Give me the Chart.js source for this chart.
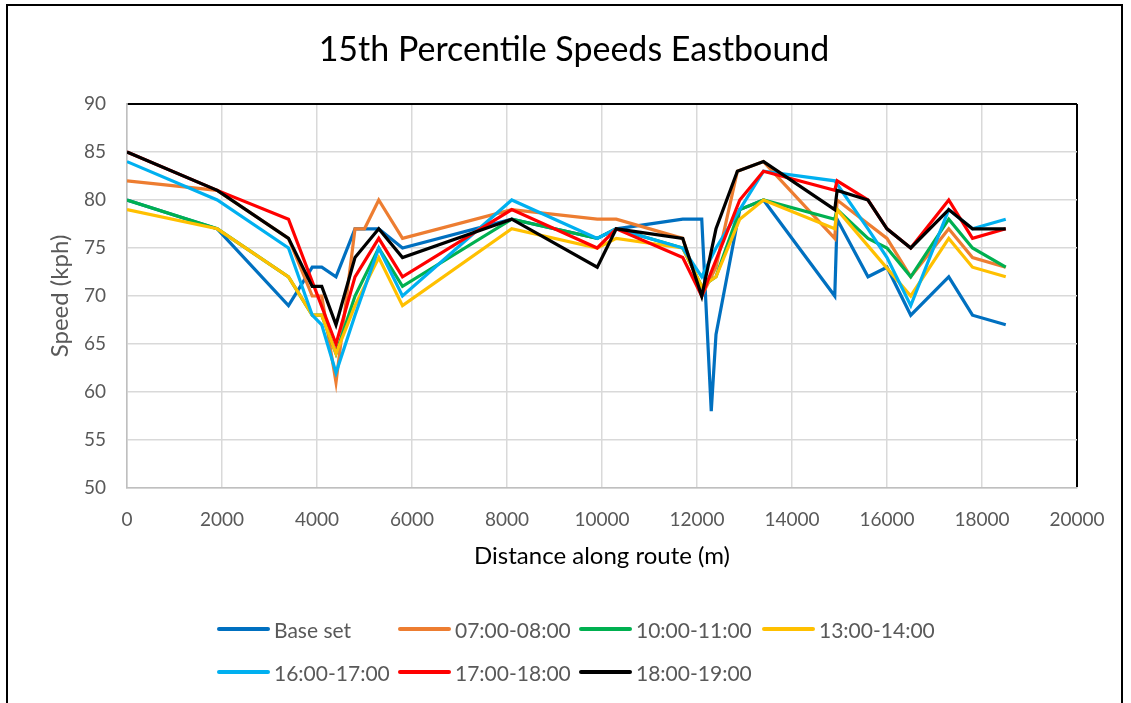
<!DOCTYPE html>
<html>
<head>
<meta charset="utf-8">
<title>15th Percentile Speeds Eastbound</title>
<script src="https://cdn.jsdelivr.net/npm/chart.js@4.4.1/dist/chart.umd.min.js"></script>
<style>
  html, body { margin: 0; padding: 0; background: #fff; }
  #wrap { position: relative; width: 1131px; height: 703px; overflow: hidden; font-family: Lato, sans-serif; }
  #frame { position: absolute; left: 6px; top: 4px; width: 1117px; height: 760px; border: 2px solid #000; box-sizing: border-box; }
  #chart { position: absolute; left: 0; top: 0; }
  #title { position: absolute; left: 18px; width: 1112px; top: 28px; line-height: 40px; text-align: center; font-size: 34px; color: #000; }
  .legend-item { position: absolute; display: flex; align-items: center; font-size: 21px; color: #595959; white-space: nowrap; }
  .legend-line { width: 53px; height: 4px; border-radius: 2px; margin-right: 4px; }
</style>
</head>
<body>
<div id="wrap">
  <div id="frame"></div>
  <canvas id="chart" width="1131" height="703"></canvas>
  <div id="title">15th Percentile Speeds Eastbound</div>
  <div id="legend"></div>
</div>
<script>
// distance along route (m), shared by all series; null = no point there
const distance = [0, 1900, 3400, 3900, 4100, 4400, 4800, 5000, 5300, 5800, 8100, 9900, 10300, 11700, 12100, 12300, 12400, 12850, 12900, 13400, 14900, 14950, 15600, 16000, 16500, 17300, 17800, 18500];

const baseSet  = [80, 77, 69, 73, 73, 72, 77, null, 77, 75, 78, 76, 77, 78, 78, 58, 66, null, 79, 80, 70, 78, 72, 73, 68, 72, 68, 67];
const am7to8   = [82, 81, 76, 70, 70, 61, 77, 77, 80, 76, 79, 78, 78, 76, 70, null, 73, 83, null, 84, 76, 80, null, 76, 72, 77, 74, 73];
const am10to11 = [80, 77, 72, 68, 68, 64, 70, null, 75, 71, 78, 76, 77, 75, 71, null, 72, null, 79, 80, 78, 79, 76, 75, 72, 78, 75, 73];
const pm1to2   = [79, 77, 72, 68, 68, 64, 69, null, 74, 69, 77, 75, 76, 75, 71, null, 72, null, 78, 80, 77, 79, null, null, 70, 76, 73, 72];
const pm4to5   = [84, 80, 75, 68, 67, 62, 68, null, 75, 70, 80, 76, 77, 75, 72, null, 75, null, null, 83, 82, null, 77, 74, 69, 79, 77, 78];
const pm5to6   = [85, 81, 78, null, null, 65, 72, null, 76, 72, 79, 75, 77, 74, 70, null, null, null, 80, 83, 81, 82, 80, 77, 75, 80, 76, 77];
const pm6to7   = [85, 81, 76, 71, 71, 67, 74, null, 77, 74, 78, 73, 77, 76, 70, null, 77, 83, null, 84, 79, 81, 80, 77, 75, 79, 77, 77];

const seriesNames  = ["Base set", "07:00-08:00", "10:00-11:00", "13:00-14:00", "16:00-17:00", "17:00-18:00", "18:00-19:00"];
const seriesValues = [baseSet, am7to8, am10to11, pm1to2, pm4to5, pm5to6, pm6to7];
const seriesColors = ["#0070C0", "#ED7D31", "#00B050", "#FFC000", "#00B0F0", "#FF0000", "#000000"];

const xTicks = [0, 2000, 4000, 6000, 8000, 10000, 12000, 14000, 16000, 18000, 20000];
const yTicks = [50, 55, 60, 65, 70, 75, 80, 85, 90];

const FONT = "Lato, sans-serif";
const GREY_TEXT = "#595959";
const GRID = "#d9d9d9";

function toPoints(values) {
  return distance
    .map((d, i) => ({ x: d, y: values[i] }))
    .filter(p => p.y !== null);
}

const datasets = seriesNames.map((name, i) => ({
  label: name,
  data: toPoints(seriesValues[i]),
  borderColor: seriesColors[i],
  backgroundColor: seriesColors[i],
  borderWidth: 3.2,
  pointRadius: 0,
  tension: 0,
  // later series drawn on top, like the original
  order: seriesNames.length - i
}));

const chart = new Chart(document.getElementById("chart"), {
  type: "line",
  data: { datasets },
  options: {
    responsive: false,
    animation: false,
    layout: { padding: { left: 20, right: 54, top: 104, bottom: 125 } },
    plugins: {
      legend: { display: false },
      tooltip: { enabled: false },
      title: { display: false }
    },
    scales: {
      x: {
        type: "linear",
        min: xTicks[0],
        max: xTicks[xTicks.length - 1],
        afterBuildTicks: s => { s.ticks = xTicks.map(v => ({ value: v })); },
        afterFit: s => { s.height = 90; },
        ticks: {
          color: GREY_TEXT,
          font: { family: FONT, size: 19 },
          padding: 20,
          maxRotation: 0,
          callback: v => String(v)
        },
        grid: {
          color: c => (c.tick && c.tick.value === 20000 ? "#000" : GRID),
          lineWidth: c => (c.tick && c.tick.value === 20000 ? 2 : 1.5),
          drawTicks: false
        },
        border: { color: "#bfbfbf", width: 1.5 },
        title: {
          display: true,
          text: "Distance along route (m)",
          color: "#000",
          font: { family: FONT, size: 24 },
          padding: { top: 0, bottom: 7 }
        }
      },
      y: {
        min: yTicks[0],
        max: yTicks[yTicks.length - 1],
        afterBuildTicks: s => { s.ticks = yTicks.map(v => ({ value: v })); },
        afterFit: s => { s.width = 107; },
        ticks: {
          color: GREY_TEXT,
          font: { family: FONT, size: 19 },
          padding: 21
        },
        grid: {
          color: c => (c.tick && c.tick.value === 90 ? "#000" : GRID),
          lineWidth: c => (c.tick && c.tick.value === 90 ? 2 : 1.5),
          drawTicks: false
        },
        border: { color: "#bfbfbf", width: 1.5 },
        title: {
          display: true,
          text: "Speed (kph)",
          color: GREY_TEXT,
          font: { family: FONT, size: 24 },
          padding: { top: 26, bottom: 0 }
        }
      }
    }
  }
});

// legend laid out in two rows, as in the original
const legendCols = [217, 398, 579, 762];
const legendRows = [629, 672];
const legendEl = document.getElementById("legend");
chart.data.datasets.forEach((ds, i) => {
  const item = document.createElement("div");
  item.className = "legend-item";
  item.style.left = legendCols[i % 4] + "px";
  item.style.top = (legendRows[Math.floor(i / 4)] - 14) + "px";
  item.style.height = "28px";
  const line = document.createElement("span");
  line.className = "legend-line";
  line.style.background = ds.borderColor;
  const label = document.createElement("span");
  label.textContent = ds.label;
  item.appendChild(line);
  item.appendChild(label);
  legendEl.appendChild(item);
});
</script>
</body>
</html>
